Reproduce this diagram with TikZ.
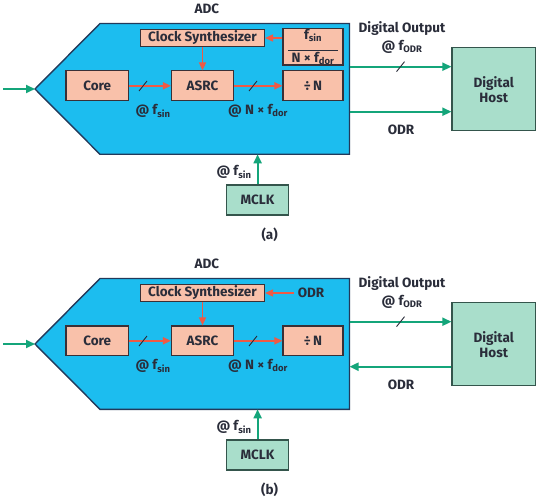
\documentclass[tikz,border=0pt]{standalone}
\usepackage{fontspec}
\setmainfont{Fira Sans}
\usetikzlibrary{arrows.meta}

\definecolor{adcblue}{HTML}{1CBDEF}
\definecolor{adcedge}{HTML}{22395A}
\definecolor{blockfill}{HTML}{F9C1AA}
\definecolor{blockedge}{HTML}{3A3036}
\definecolor{sigred}{HTML}{EE5A45}
\definecolor{siggreen}{HTML}{14A57A}
\definecolor{hostfill}{HTML}{A9DECB}
\definecolor{hostedge}{HTML}{34554C}
\definecolor{inktext}{HTML}{2A2D3A}

% parts that both panels share
\newcommand{\adcpanel}{%
    \draw[adcedge, fill=adcblue, line width=1.4pt]
        (35,89) -- (100,23.5) -- (349.5,23.5) -- (349.5,154.3) -- (100,154.3) -- cycle;
    \coordinate (adctip) at (35,89);
    \coordinate (srcin) at (3,89);
    \coordinate (doutA) at (349.5,66.7);
    \coordinate (odrA) at (349.5,111.7);
    \coordinate (mclkin) at (257.6,154.3);
    \node[lbl] (adclbl) at (207,8.5) {ADC};

    \node[block, minimum width=62.4pt] (core) at (97.2,85.8) {Core};
    \node[block, minimum width=62pt] (asrc) at (202.5,85.8) {ASRC};
    \node[block, minimum width=60pt] (divn) at (313,85.8) {÷\,N};
    \node[block, minimum width=124pt, minimum height=17.4pt] (clk) at (202.5,38) {Clock Synthesizer};
    \node[hostblk, minimum width=83.5pt, minimum height=83pt] (host) at (493.7,89.2) {Digital\\Host};
    \node[hostblk, minimum width=62pt, minimum height=30pt] (mclk) at (257.6,200) {MCLK};

    \draw[grnsig] (srcin) -- (adctip);
    \draw[redsig] (core) -- (asrc);
    \draw[redsig] (asrc) -- (divn);
    \draw[redsig] (clk) -- (asrc);
    \draw[slashmark] (143,86) ++(-4,5) -- ++(8,-10);
    \draw[slashmark] (253,86) ++(-4,5) -- ++(8,-10);
    \node[lbl] (fsin) at (153,111) {@ f\textsubscript{sin}};
    \node[lbl] (fdor) at (258,111) {@ N × f\textsubscript{dor}};

    \draw[grnsig] (doutA) -- (doutA -| host.west);
    \draw[slashmark] (400.5,66.7) ++(-4,5) -- ++(8,-10);
    \node[lbl] (doutlbl) at (402,29) {Digital Output};
    \node[lbl] (fodr) at (402,46.7) {@ f\textsubscript{ODR}};
    \node[lbl] (odrlbl) at (401,130) {ODR};

    \draw[grnsig] (mclk.north) -- (mclkin);
    \node[lbl] (mclklbl) at (234,172) {@ f\textsubscript{sin}};
}

\begin{document}
\begin{tikzpicture}[x=1pt, y=-1pt,
        lbl/.style={font=\bfseries\fontsize{13.5}{15}\selectfont, text=inktext},
        block/.style={draw=blockedge, fill=blockfill, line width=1.1pt,
                      minimum height=29.7pt, inner sep=0pt, align=center,
                      font=\bfseries\fontsize{13.5}{15}\selectfont, text=inktext},
        hostblk/.style={block, draw=hostedge, fill=hostfill},
        redsig/.style={draw=sigred, line width=1.6pt,
                       -{Triangle[length=8pt,width=7pt]}},
        grnsig/.style={draw=siggreen, line width=2pt,
                       -{Triangle[length=9pt,width=8pt]}},
        slashmark/.style={draw=inktext, line width=0.9pt},
    ]
    \useasboundingbox[fill=white] (0,0) rectangle (540,497);

    % (a) fixed ratio
    \begin{scope}
        \adcpanel
        \node[block, minimum width=60pt, minimum height=36.7pt] (ratio) at (313,46.7)
            {f\textsubscript{sin}\\[-4pt]\rule{50pt}{0.6pt}\\[-3pt]N × f\textsubscript{dor}};
        \draw[redsig] (ratio.west |- clk) -- (clk.east);
        \draw[grnsig] (odrA) -- (odrA -| host.west);
        \node[lbl] (capa) at (269.6,235) {(a)};
    \end{scope}

    % (b) ODR from the host
    \begin{scope}[yshift=-255pt]
        \adcpanel
        \node[lbl] (odrin) at (311,38) {ODR};
        \draw[redsig] (odrin.west) -- (clk.east);
        \draw[grnsig] (odrA -| host.west) -- (odrA);
        \node[lbl] (capb) at (269.6,235) {(b)};
    \end{scope}
\end{tikzpicture}
\end{document}
